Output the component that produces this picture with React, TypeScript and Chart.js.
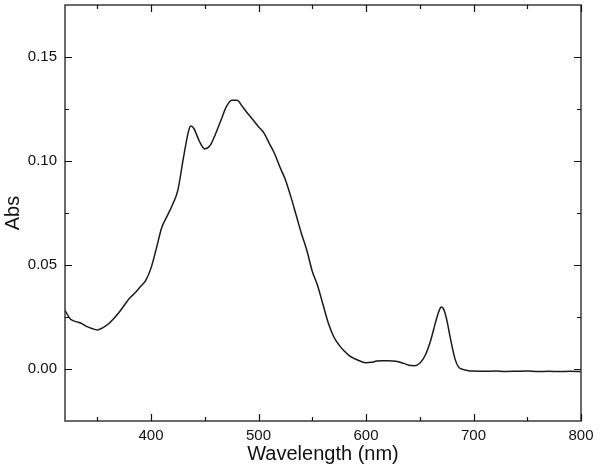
import React, { useEffect, useRef } from 'react';
import { Chart, registerables } from 'chart.js';

Chart.register(...registerables);

const wavelengths = [
  320, 325, 330, 335, 340, 345, 350, 355, 360, 365, 370, 375, 380, 385, 390, 395,
  400, 405, 410, 415, 420, 425, 430, 435, 437, 440, 445, 450, 455, 460, 465, 470,
  475, 480, 485, 490, 495, 500, 505, 510, 515, 520, 525, 530, 535, 540, 545, 550,
  555, 560, 565, 570, 575, 580, 585, 590, 595, 600, 605, 610, 615, 620, 625, 630,
  635, 640, 645, 650, 655, 660, 665, 668, 670, 672, 675, 678, 680, 683, 686, 690,
  695, 700, 710, 720, 730, 740, 750, 760, 770, 780, 790, 800,
];

const absorbance = [
  0.0282, 0.024, 0.0228, 0.022, 0.0205, 0.0195, 0.0188, 0.0198, 0.0215, 0.024, 0.027, 0.0305, 0.034, 0.0365, 0.0395, 0.0425,
  0.0485, 0.058, 0.068, 0.0735, 0.079, 0.086, 0.101, 0.1145, 0.1168, 0.1155, 0.1095, 0.1058, 0.1075, 0.113, 0.1195, 0.126,
  0.1292, 0.1292, 0.1262, 0.1228, 0.1197, 0.1165, 0.1135, 0.1085, 0.1035, 0.097, 0.091, 0.083, 0.074, 0.065, 0.057, 0.047,
  0.04, 0.031, 0.022, 0.0155, 0.0115, 0.0085, 0.0062, 0.0048, 0.0037, 0.003, 0.0032, 0.0038, 0.004, 0.004, 0.0039, 0.0035,
  0.0027, 0.0018, 0.0016, 0.0028, 0.0065, 0.0135, 0.023, 0.028, 0.0298, 0.029, 0.024, 0.016, 0.011, 0.0045, 0.001, -0.0002,
  -0.0008, -0.001, -0.0011, -0.001, -0.0012, -0.0011, -0.001, -0.0012, -0.0011, -0.0012, -0.0011, -0.0012,
];

const xMajorTicks = [400, 500, 600, 700, 800];
const xMinorTicks = [350, 450, 550, 650, 750];
const yMajorTicks = [0, 0.05, 0.1, 0.15];
const yMinorTicks = [0.025, 0.075, 0.125];

const frameTicksPlugin = {
  id: 'frameTicks',
  afterDraw(chart: any) {
    const { ctx, chartArea, scales } = chart;
    const { left, right, top, bottom } = chartArea;
    ctx.save();
    ctx.strokeStyle = '#3a3a3a';
    ctx.lineWidth = 1.5;
    ctx.strokeRect(left, top, right - left, bottom - top);
    ctx.strokeStyle = '#111';
    ctx.lineWidth = 1.2;
    const drawX = (vals: number[], len: number) => {
      vals.forEach((v) => {
        const x = Math.round(scales.x.getPixelForValue(v)) + 0.5;
        ctx.beginPath();
        ctx.moveTo(x, bottom);
        ctx.lineTo(x, bottom - len);
        ctx.moveTo(x, top);
        ctx.lineTo(x, top + len);
        ctx.stroke();
      });
    };
    const drawY = (vals: number[], len: number) => {
      vals.forEach((v) => {
        const y = Math.round(scales.y.getPixelForValue(v)) + 0.5;
        ctx.beginPath();
        ctx.moveTo(left, y);
        ctx.lineTo(left + len, y);
        ctx.moveTo(right, y);
        ctx.lineTo(right - len, y);
        ctx.stroke();
      });
    };
    drawX(xMajorTicks, 7);
    drawX(xMinorTicks, 4);
    drawY(yMajorTicks, 7);
    drawY(yMinorTicks, 4);
    ctx.restore();
  },
};

export default function App() {
  const ref = useRef<HTMLCanvasElement>(null);
  useEffect(() => {
    if (!ref.current) return;
    const font = 'Liberation Sans, Arial, sans-serif';
    const chart = new Chart(ref.current, {
      type: 'line',
      data: {
        datasets: [
          {
            data: wavelengths.map((w, i) => ({ x: w, y: absorbance[i] })),
            borderColor: '#1a1a1a',
            borderWidth: 1.5,
            pointRadius: 0,
            cubicInterpolationMode: 'monotone',
            fill: false,
          },
        ],
      },
      options: {
        animation: false,
        responsive: false,
        maintainAspectRatio: false,
        layout: { padding: { top: 5, right: 19, left: 0, bottom: 0 } },
        plugins: { legend: { display: false }, tooltip: { enabled: false } },
        scales: {
          x: {
            type: 'linear',
            min: 320,
            max: 800,
            grid: { display: false, drawTicks: false },
            border: { display: false },
            afterBuildTicks: (s: any) => {
              s.ticks = xMajorTicks.map((v) => ({ value: v }));
            },
            afterFit: (s: any) => {
              s.height = 49;
              s.paddingLeft = 0;
              s.paddingRight = 0;
            },
            ticks: {
              padding: 6,
              color: '#111',
              font: { family: font, size: 15 },
              callback: (v: any) => String(v),
              maxRotation: 0,
            },
            title: {
              display: true,
              text: 'Wavelength (nm)',
              color: '#111',
              font: { family: font, size: 20 },
              padding: { top: 0, bottom: 4 },
            },
          },
          y: {
            type: 'linear',
            min: -0.025,
            max: 0.175,
            grid: { display: false, drawTicks: false },
            border: { display: false },
            afterBuildTicks: (s: any) => {
              s.ticks = yMajorTicks.map((v) => ({ value: v }));
            },
            afterFit: (s: any) => {
              s.width = 65;
              s.paddingTop = 0;
              s.paddingBottom = 0;
            },
            ticks: {
              padding: 8,
              color: '#111',
              font: { family: font, size: 15 },
              callback: (v: any) => Number(v).toFixed(2),
            },
            title: {
              display: true,
              text: 'Abs',
              color: '#111',
              font: { family: font, size: 20 },
              padding: { top: 1, bottom: 0 },
            },
          },
        },
      },
      plugins: [frameTicksPlugin],
    } as any);
    return () => chart.destroy();
  }, []);
  return (
    <div style={{ position: 'absolute', left: 0, top: 0, width: 600, height: 470, background: '#fff' }}>
      <canvas ref={ref} width={600} height={470} style={{ width: 600, height: 470 }} />
    </div>
  );
}
